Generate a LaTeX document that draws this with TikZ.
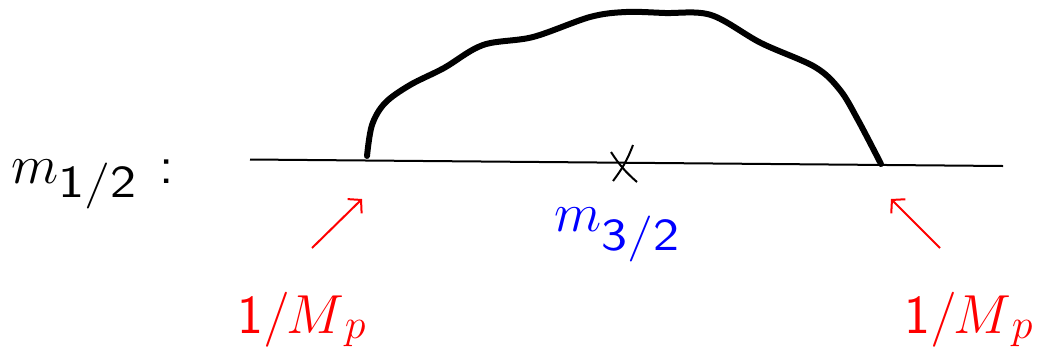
\RequirePackage{fix-cm}
\documentclass[tikz,border=0pt]{standalone}
\usepackage{graphicx}
\usetikzlibrary{arrows.meta}
\newcommand{\subfnt}{\fontsize{46}{50}\selectfont\sffamily}
\begin{document}
\begin{tikzpicture}[x=1pt,y=-1pt,
  lbl/.style={inner sep=0pt,anchor=base west,font=\fontsize{55}{60}\selectfont},
  thinline/.style={line width=2pt,black},
  tadpole/.style={line width=6pt,black,line cap=round,line join=round},
  redarrow/.style={red,line width=2pt,-{Straight Barb[length=9pt,width=20pt,line width=2pt]}}]
\useasboundingbox (0,0) rectangle (1044,354);
% labels
\node[lbl] (mhalf) at (11,183) {$m$\raisebox{-14pt}{\subfnt\scalebox{1.2}[1]{1/2}}};
\node[lbl] (colon) at (159,183) {\textsf{:}};
\node[lbl,text=blue] (mthreehalf) at (554,231) {$m$\raisebox{-19pt}{\subfnt\scalebox{1.2}[1]{3/2}}};
\node[lbl,text=red] (mpl) at (237,333) {$\mathsf{1}/M$\raisebox{-5pt}{\fontsize{42}{46}\selectfont$p$}};
\node[lbl,text=red] (mpr) at (904,333) {$\mathsf{1}/M$\raisebox{-5pt}{\fontsize{42}{46}\selectfont$p$}};
% propagator line
\coordinate (lineL) at (250,159.5);
\coordinate (lineR) at (1003,166);
\draw[thinline] (lineL) -- (lineR);
% mass insertion cross
\coordinate (c1a) at (611,152);
\coordinate (c1b) at (637,182);
\coordinate (c2a) at (633,145);
\coordinate (c2b) at (613,181);
\draw[thinline] (c1a) to[bend right=8] (c1b);
\draw[thinline] (c2a) to[bend left=8] (c2b);
% loop
\coordinate (vL) at (367,156);
\coordinate (vR) at (881,164);
\draw[tadpole] plot[smooth,tension=0.55] coordinates {
  (367,156) (372,125) (385,103) (410,85) (444,68) (483,45) (533,37)
  (590,17) (626,12) (665,13) (711,15) (761,43) (815,67) (840,90) (858,120) (881,164)};
% arrows
\coordinate (aLt) at (312,248);
\coordinate (aLh) at (362,199);
\coordinate (aRt) at (940,248);
\coordinate (aRh) at (891,199);
\draw[redarrow] (aLt) -- (aLh);
\draw[redarrow] (aRt) -- (aRh);
\end{tikzpicture}
\end{document}
